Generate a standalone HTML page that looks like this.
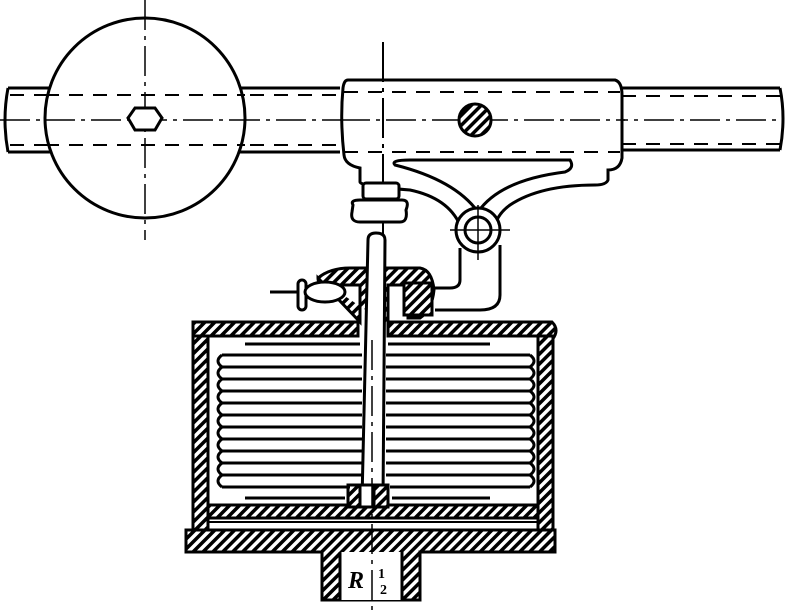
<!DOCTYPE html>
<html><head><style>html,body{margin:0;padding:0;background:#fff}svg{display:block}</style></head>
<body>
<svg width="788" height="616" viewBox="0 0 788 616" xmlns="http://www.w3.org/2000/svg">
<defs>
<pattern id="h" width="7" height="7" patternUnits="userSpaceOnUse" patternTransform="rotate(45)">
<rect width="7" height="7" fill="#fff"/><rect width="3.5" height="7" fill="#000"/>
</pattern>
</defs>
<g fill="none" stroke="#000" stroke-width="3">
<!-- bar -->
<path d="M8 88 H340 M8 152 H340 M622 88 H780 M622 150 H780"/>
<path d="M8 88 Q2 120 8 152 M780 88 Q786 118 780 150"/>
<path d="M10 95 H340 M10 145 H340 M622 96 H780 M622 144 H780" stroke-width="2" stroke-dasharray="14 10"/>
<path d="M0 120 H780" stroke-width="1.5" stroke-dasharray="30 6 4 6"/>
<!-- wheel -->
<circle cx="145" cy="118" r="100" fill="#fff"/>
<path d="M45 95 H245 M45 145 H245" stroke-width="2" stroke-dasharray="14 10"/>
<path d="M45 120 H245" stroke-width="1.5" stroke-dasharray="30 6 4 6"/>
<path d="M145 0 V240" stroke-width="1.5" stroke-dasharray="30 6 4 6"/>
<polygon points="135,108 155,108 162,118 155,130 135,130 128,118" fill="#fff"/>
<!-- clamp block -->
<path d="M460 225 Q448 198 410 190 Q360 186 360 182 V168 Q345 165 344 155 Q340 120 343 88 Q344 80 348 80 H615 Q622 82 622 95 V158 Q620 170 608 170 V180 Q606 185 595 185 Q540 185 510 205 Q496 215 494 230" fill="#fff"/>
<path d="M344 92 H620 M344 152 H620" stroke-width="2" stroke-dasharray="14 10"/>
<path d="M340 120 H625" stroke-width="1.5" stroke-dasharray="30 6 4 6"/>
<path d="M395 165 Q390 160 410 160 H570 Q575 168 565 172 Q500 180 478 212 Q455 180 395 165 Z"/>
<circle cx="475" cy="120" r="16" fill="url(#h)"/>
<circle cx="478" cy="230" r="22" fill="#fff"/>
<circle cx="478" cy="230" r="13"/>
<path d="M450 230 H510 M478 205 V260" stroke-width="1.5"/>
<path d="M383 42 V250" stroke-width="2" stroke-dasharray="40 6 4 6"/>
<!-- nut -->
<rect x="363" y="183" width="36" height="16" rx="3" fill="#fff"/>
<path d="M353 205 Q350 200 360 200 H402 Q410 200 406 210 Q408 222 400 222 H360 Q350 222 352 212 Z" fill="#fff"/>
<!-- arm -->
<path d="M460 248 V280 Q460 288 450 288 H432 M500 245 V295 Q500 310 480 310 H435"/>
<!-- top fitting -->
<path d="M318 278 Q330 268 350 268 H420 Q432 270 434 290 Q432 310 420 318 H408 V285 H388 V325 M360 322 V285 L340 285 Q318 290 318 278 Z" fill="url(#h)"/>
<rect x="404" y="283" width="28" height="32" fill="url(#h)"/>
<path d="M270 292 H300"/>
<rect x="298" y="280" width="8" height="30" rx="4" fill="#fff"/>
<ellipse cx="325" cy="292" rx="20" ry="10" fill="#fff"/>
<!-- rod -->
<path d="M368 240 Q368 233 376 233 Q385 233 385 240 L383 500 L362 500 Z" fill="#fff"/>
<!-- cylinder top plate -->
<path d="M193 322 H358 V336 H208 V345 H193 Z M388 322 H552 Q560 330 552 340 H540 V336 H388 Z" fill="url(#h)"/>
<!-- side walls -->
<rect x="193" y="336" width="15" height="200" fill="url(#h)"/>
<rect x="538" y="336" width="15" height="200" fill="url(#h)"/>
<!-- inner bottom plate -->
<path d="M208 505 H538 V518 H208 Z" fill="url(#h)"/>
<rect x="348" y="485" width="40" height="22" fill="url(#h)"/>
<rect x="360" y="485" width="14" height="22" fill="#fff"/>
<!-- bottom plate -->
<path d="M186 530 H555 V552 H420 V600 H322 V552 H186 Z" fill="url(#h)"/>
<rect x="340" y="552" width="62" height="48" fill="#fff" stroke="none"/>
<path d="M340 552 V600 M402 552 V600"/>
<path d="M208 522 H538" stroke-width="2"/>
<path d="M372 340 V616" stroke-width="1.5" stroke-dasharray="30 6 4 6"/>
</g>
<!-- bellows -->
<g fill="none" stroke="#000" stroke-width="3">
<path d="M245 344 H360 M388 344 H490"/>
<path d="M222 355 H362 M386 355 H530 M222 367 H362 M386 367 H530 M222 379 H362 M386 379 H530 M222 391 H362 M386 391 H530 M222 403 H362 M386 403 H530 M222 415 H362 M386 415 H530 M222 427 H362 M386 427 H530 M222 439 H362 M386 439 H530 M222 451 H362 M386 451 H530 M222 463 H362 M386 463 H530 M222 475 H362 M386 475 H530 M222 487 H350 M390 487 H530"/>
<path d="M222 355 Q214 361 222 367 Q214 373 222 379 Q214 385 222 391 Q214 397 222 403 Q214 409 222 415 Q214 421 222 427 Q214 433 222 439 Q214 445 222 451 Q214 457 222 463 Q214 469 222 475 Q214 481 222 487"/>
<path d="M530 355 Q538 361 530 367 Q538 373 530 379 Q538 385 530 391 Q538 397 530 403 Q538 409 530 415 Q538 421 530 427 Q538 433 530 439 Q538 445 530 451 Q538 457 530 463 Q538 469 530 475 Q538 481 530 487"/>
<path d="M245 498 H345 M392 498 H490"/>
</g>
<text x="348" y="588" font-family="Liberation Serif, serif" font-style="italic" font-weight="bold" font-size="24">R</text>
<text x="378" y="578" font-family="Liberation Serif, serif" font-size="14" font-weight="bold">1</text>
<text x="380" y="594" font-family="Liberation Serif, serif" font-size="14" font-weight="bold">2</text>
</svg>
</body></html>
